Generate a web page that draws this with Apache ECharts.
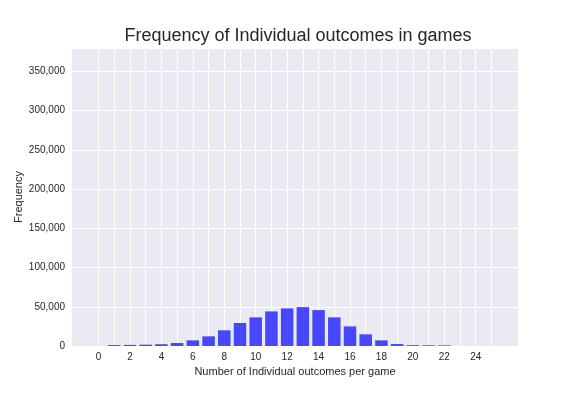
<!DOCTYPE html>
<html>
<head>
<meta charset="utf-8">
<script src="https://cdn.jsdelivr.net/npm/echarts@6/dist/echarts.min.js"></script>
<style>html,body{margin:0;padding:0;background:#fff}#c{width:576px;height:396px}</style>
</head>
<body>
<div id="c"></div>
<script>
const outcomes = [0,1,2,3,4,5,6,7,8,9,10,11,12,13,14,15,16,17,18,19,20,21,22,23,24,25];
const frequencies = [50,1200,1400,1700,2300,3800,7200,12300,20000,29300,36500,44100,48000,49600,45800,36500,25000,14900,7200,2500,1100,900,800,0,0,0];
const xTickLabels = [0,2,4,6,8,10,12,14,16,18,20,22,24];
const yTickStep = 50000;

const chart = echarts.init(document.getElementById('c'), null, {renderer:'canvas'});
const font = 'Liberation Sans, Arial, sans-serif';
chart.setOption({
  animation:false,
  backgroundColor:'#ffffff',
  title:{text:'Frequency of Individual outcomes in games',left:293,top:22,textAlign:'center',
    textStyle:{fontFamily:font,fontSize:18,fontWeight:'normal',color:'#262626'}},
  grid:{left:72,right:58,top:48,bottom:50,show:true,backgroundColor:'#EAEAF2',borderWidth:0},
  xAxis:{type:'value',min:-1.69,max:26.69,
    name:'Number of Individual outcomes per game',nameLocation:'middle',nameGap:19,
    nameTextStyle:{fontFamily:font,fontSize:11,color:'#262626'},
    axisLine:{show:false},axisTick:{show:false,customValues:outcomes},
    axisLabel:{fontFamily:font,fontSize:10,color:'#262626',margin:6,customValues:xTickLabels},
    splitLine:{show:false}},
  yAxis:{type:'value',min:0,max:380000,interval:yTickStep,
    name:'Frequency',nameLocation:'middle',nameGap:48,nameMoveOverlap:false,
    nameTextStyle:{fontFamily:font,fontSize:11,color:'#262626'},
    axisLine:{show:false},axisTick:{show:false},
    axisLabel:{fontFamily:font,fontSize:10,color:'#262626',margin:7,showMaxLabel:false,
      formatter:function(v){return v.toLocaleString('en-US');}},
    splitLine:{show:true,lineStyle:{color:'#ffffff',width:1}}},
  series:[{type:'bar',data:outcomes.map((x,i)=>[x,frequencies[i]]),barWidth:12.5,z:3,
    itemStyle:{color:'rgba(0,0,255,0.7)'},
    markLine:{silent:true,symbol:'none',z:1,label:{show:false},
      lineStyle:{color:'#ffffff',width:1,type:'solid'},
      data:outcomes.map(x=>({xAxis:x}))}}]
});
</script>
</body>
</html>
